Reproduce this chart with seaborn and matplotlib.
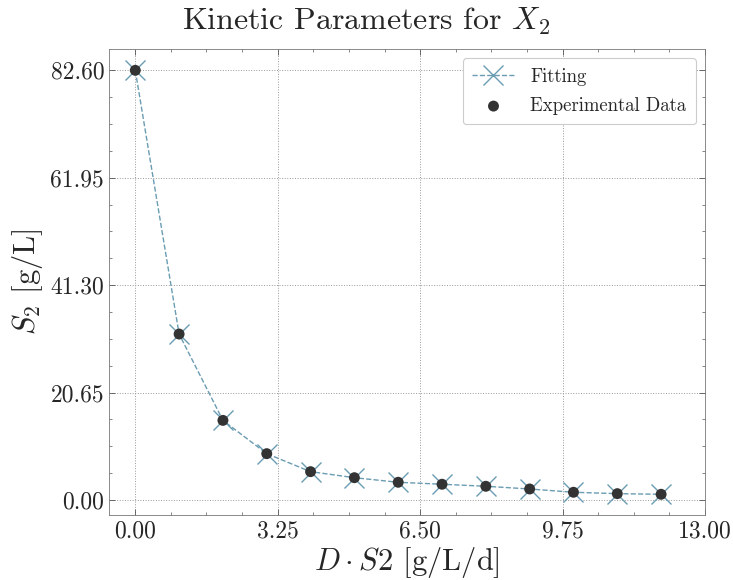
import numpy as np
import matplotlib
matplotlib.use('Agg')
import matplotlib.pyplot as plt
import seaborn as sns
from matplotlib.ticker import FixedLocator, AutoMinorLocator, FormatStrFormatter

# Data
dilution_s2 = [0, 1, 2, 3, 4, 5, 6, 7, 8, 9, 10, 11, 12]
s2_experimental = [82.6, 31.9, 15.3, 8.9, 5.44, 4.28, 3.40, 3.02, 2.63, 2.11, 1.48, 1.21, 1.09]
s2_fitting = [82.6, 31.9, 15.3, 8.9, 5.44, 4.28, 3.40, 3.02, 2.63, 2.11, 1.48, 1.21, 1.09]

x_ticks = [0.00, 3.25, 6.50, 9.75, 13.00]
y_ticks = [0.00, 20.65, 41.30, 61.95, 82.60]

sns.set_style("ticks")
plt.rcParams['font.family'] = 'serif'
plt.rcParams['font.serif'] = ['cmr10']
plt.rcParams['mathtext.fontset'] = 'cm'
plt.rcParams['axes.formatter.use_mathtext'] = True
plt.rcParams['xtick.direction'] = 'in'
plt.rcParams['ytick.direction'] = 'in'
plt.rcParams['xtick.top'] = True
plt.rcParams['ytick.right'] = True

fig = plt.figure(figsize=(7.33, 5.8), dpi=100)
ax = fig.add_axes([0.1487, 0.112, 0.813, 0.8035])

fit_color = '#6a9cb2'
sns.lineplot(x=dilution_s2, y=s2_fitting, ax=ax, color=fit_color, linestyle='--',
             linewidth=1.0, label='Fitting', zorder=2)
# seaborn drops the marker kwarg, so set it on the drawn line
fit_line = ax.lines[0]
fit_line.set_marker('x')
fit_line.set_markersize(14)
fit_line.set_markeredgewidth(1.0)
fit_line.set_markeredgecolor(fit_color)

sns.scatterplot(x=dilution_s2, y=s2_experimental, ax=ax, color='#333333', s=62,
                edgecolor='none', label='Experimental Data', zorder=3)

ax.set_xlim(-0.6, 13.0)
ax.set_ylim(-2.9, 86.7)
ax.xaxis.set_major_locator(FixedLocator(x_ticks))
ax.yaxis.set_major_locator(FixedLocator(y_ticks))
ax.xaxis.set_major_formatter(FormatStrFormatter('%.2f'))
ax.yaxis.set_major_formatter(FormatStrFormatter('%.2f'))
ax.xaxis.set_minor_locator(AutoMinorLocator(4))
ax.yaxis.set_minor_locator(AutoMinorLocator(4))
ax.tick_params(which='major', length=4, width=0.6, color='#555555', labelsize=17)
ax.tick_params(which='minor', length=2, width=0.5, color='#555555')
for sp in ax.spines.values():
    sp.set_linewidth(0.6)
    sp.set_color('#777777')

ax.grid(True, which='major', linestyle=':', linewidth=0.7, color='#999999')

ax.set_xlabel(r'$D \cdot S2$ [g/L/d]', fontsize=22, labelpad=2)
ax.set_ylabel(r'$S_2$ [g/L]', fontsize=22, labelpad=4)
fig.suptitle(r'Kinetic Parameters for $X_2$', fontsize=23, y=0.99)

leg = ax.legend(loc='upper right', fontsize=13.5, frameon=True, fancybox=True,
                edgecolor='#cccccc', framealpha=1.0, handlelength=2.3,
                borderpad=0.5, labelspacing=0.6)
leg.get_frame().set_linewidth(0.8)

fig.savefig('out.png', dpi=100)
